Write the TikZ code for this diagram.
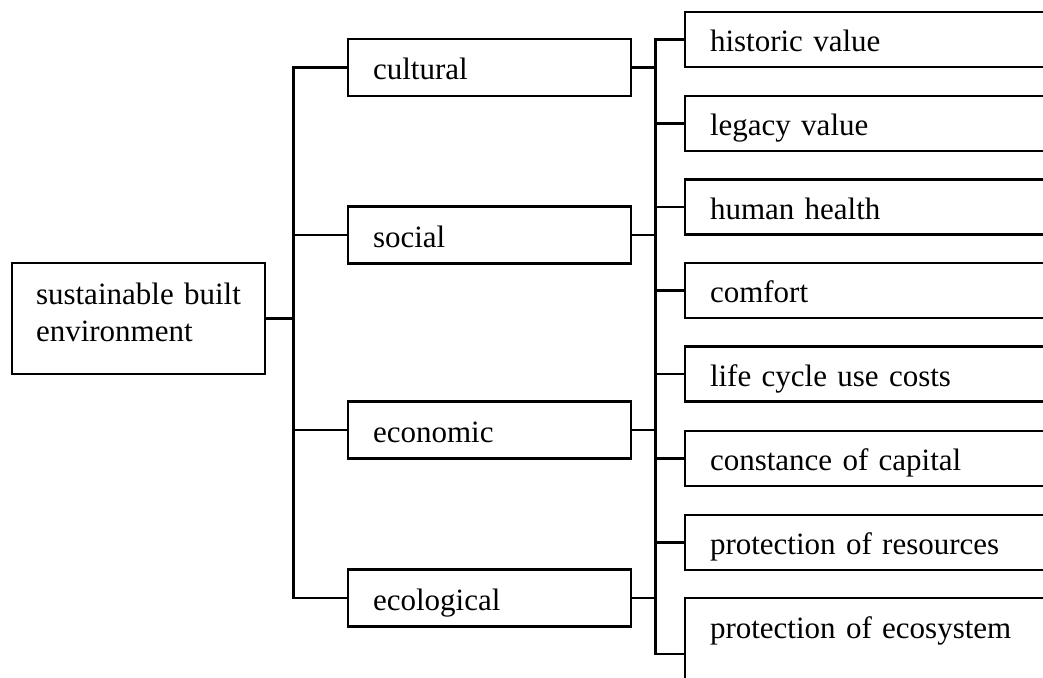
\documentclass[tikz,border=0pt]{standalone}
\usepackage{fontspec}
\setmainfont{Liberation Serif}
\begin{document}
\begin{tikzpicture}[x=0.5pt, y=-0.5pt, line width=1.3pt,
  every node/.style={font=\fontsize{15.5}{18.5}\selectfont},
  base/.style={draw,inner xsep=12.5pt,inner ysep=0pt,align=left},
  box/.style={base,text height=12.4pt,text depth=0pt},
  mid/.style={box,minimum width=141.5pt,text width=116.5pt,minimum height=28.5pt},
  leaf/.style={box,minimum width=207.5pt,text width=182.5pt,minimum height=27.5pt}]
\useasboundingbox (0,0) rectangle (1043,678);
\clip (0,0) rectangle (1043,678);
\node[base,inner xsep=12pt,minimum width=126.5pt,text width=102.5pt,minimum height=55.5pt,text depth=25pt] (sbe) at (138.5,318.5) {sustainable built\\environment};
\node[mid] (cul) at (489.5,67.5) {cultural};
\node[mid] (soc) at (489.5,235) {social};
\node[mid] (eco) at (489.5,430) {economic};
\node[mid] (ecl) at (489.5,598) {ecological};
\node[leaf] (hist) at (892.5,39.5) {historic value};
\node[leaf] (leg) at (892.5,123.5) {legacy value};
\node[leaf] (hum) at (892.5,207) {human health};
\node[leaf] (com) at (892.5,290.5) {comfort};
\node[leaf] (lcc) at (892.5,374) {life cycle use costs};
\node[leaf] (cap) at (892.5,458.5) {constance of capital};
\node[leaf] (res) at (892.5,542.5) {protection of resources};
\node[leaf,minimum height=56pt,text depth=28.4pt] (sys) at (892.5,654) {protection of ecosystem};
\coordinate (rj) at ([xshift=-14pt]hist.west);
\foreach \m in {cul,soc,eco,ecl}
  \draw (sbe.east) -- ++(27,0) |- (\m.west);
\foreach \m in {cul,soc,eco,ecl}
  \draw (\m.east) -- (rj |- \m.east);
\foreach \l in {hist,leg,hum,com,lcc,cap,res,sys}
  \draw (rj |- cul.east) |- (\l.west);
\end{tikzpicture}
\end{document}
